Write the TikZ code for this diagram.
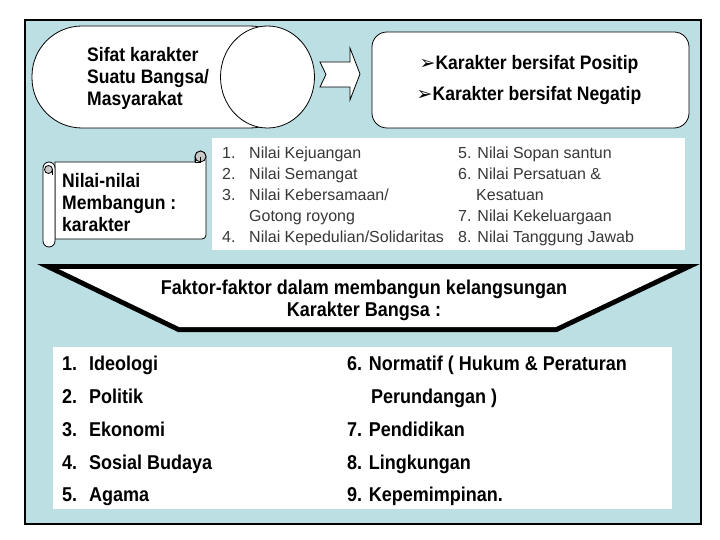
\documentclass[tikz,border=0pt]{standalone}
\usepackage{fontspec}
\setmainfont{Liberation Sans}
\newfontfamily\bnarrow{Liberation Sans}[FakeStretch=0.9]
\newfontfamily\dejavu{DejaVu Sans}
\definecolor{bgblue}{RGB}{187,223,227}
\definecolor{curlgray}{RGB}{200,200,200}
\tikzset{
  thin line/.style={draw=black, line width=0.8pt},
  boldtxt/.style={inner sep=0pt, anchor=base west, font=\bnarrow\bfseries\fontsize{19.5}{22}\selectfont},
  bigtxt/.style={inner sep=0pt, anchor=base west, font=\bnarrow\bfseries\fontsize{20}{22}\selectfont},
  listtxt/.style={inner sep=0pt, anchor=base west, text=black!78, font=\fontsize{16}{21}\selectfont},
}
\newcommand{\mybullet}{{\dejavu\fontsize{19}{19}\selectfont ➢}}
\begin{document}
\begin{tikzpicture}[x=1pt,y=-1pt]
\useasboundingbox (0,0) rectangle (720,540);
% outer panel
\draw[fill=bgblue, line width=1.2pt] (25,20) rectangle (701,524);

% stadium + circle
\draw[thin line, fill=white, rounded corners=50] (32,26) rectangle (300,128);
\draw[thin line, fill=white] (267.5,77) ellipse[x radius=47, y radius=51];
\node[boldtxt] (s1) at (87,61.5) {Sifat karakter};
\node[boldtxt] (s2) at (87,83.5) {Suatu Bangsa/};
\node[boldtxt] (s3) at (87,105.5) {Masyarakat};

% notched arrow
\draw[thin line, fill=white] (320,62) -- (350,62) -- (350,48) -- (360,74) -- (350,100) -- (350,87) -- (320,87) -- (326,74.5) -- cycle;

% rounded box
\draw[thin line, fill=white, rounded corners=15] (372,32) rectangle (689,128);
\node[boldtxt, anchor=base] (k1) at (529,69.5) {\mybullet Karakter bersifat Positip};
\node[boldtxt, anchor=base] (k2) at (529,100.5) {\mybullet Karakter bersifat Negatip};

% scroll
\draw[thin line, fill=white] (55,162) -- (195,162) -- (195,156.5)
   arc[start angle=180, end angle=360, radius=5.5] -- (206,235)
   arc[start angle=0, end angle=90, radius=4] -- (55,239) -- cycle;
\draw[thin line, fill=curlgray] (200.5,156.5) circle[radius=5.5];
\draw[thin line] (195,157) -- (195,162) -- (200.5,162) -- (200.5,157);
\draw[thin line, fill=white] (43,168) arc[start angle=180, end angle=360, radius=6]
   -- (55,241) arc[start angle=0, end angle=180, radius=6] -- cycle;
\draw[thin line, fill=curlgray] (48.5,169.5) circle[radius=4];
\draw[thin line] (52.5,169.5) -- (52.5,175);
\node[boldtxt] (n1) at (62,187.5) {Nilai-nilai};
\node[boldtxt] (n2) at (62,209.5) {Membangun :};
\node[boldtxt] (n3) at (62,231) {karakter};

% value list
\fill[white] (212,138) rectangle (685,250);
\node[listtxt] (a1n) at (222,158.5) {1.};
\node[listtxt] (a1) at (249,158.5) {Nilai Kejuangan};
\node[listtxt] (a2n) at (222,179.5) {2.};
\node[listtxt] (a2) at (249,179.5) {Nilai Semangat};
\node[listtxt] (a3n) at (222,200.5) {3.};
\node[listtxt] (a3) at (249,200.5) {Nilai Kebersamaan/};
\node[listtxt] (a3b) at (249,221.5) {Gotong royong};
\node[listtxt] (a4n) at (222,242.5) {4.};
\node[listtxt] (a4) at (249,242.5) {Nilai Kepedulian/Solidaritas};
\node[listtxt] (b5) at (458,158.5) {5. Nilai Sopan santun};
\node[listtxt] (b6) at (458,179.5) {6. Nilai Persatuan \&};
\node[listtxt] (b6b) at (476,200.5) {Kesatuan};
\node[listtxt] (b7) at (458,221.5) {7. Nilai Kekeluargaan};
\node[listtxt] (b8) at (458,242.5) {8. Nilai Tanggung Jawab};

% banner
\fill[black] (37,264) -- (700,264) -- (557,332) -- (178,332) -- cycle;
\fill[white] (58.9,269) -- (677.8,269) -- (555.9,327) -- (179.2,327) -- cycle;
\node[bigtxt, anchor=base] (f1) at (364,294.5) {Faktor-faktor dalam membangun kelangsungan};
\node[bigtxt, anchor=base] (f2) at (364,316.5) {Karakter Bangsa :};

% factor list
\fill[white] (53,347) rectangle (672,509);
\node[bigtxt] (c1n) at (62,370) {1.};
\node[bigtxt] (c1) at (89,370) {Ideologi};
\node[bigtxt] (c2n) at (62,403) {2.};
\node[bigtxt] (c2) at (89,403) {Politik};
\node[bigtxt] (c3n) at (62,436) {3.};
\node[bigtxt] (c3) at (89,436) {Ekonomi};
\node[bigtxt] (c4n) at (62,469) {4.};
\node[bigtxt] (c4) at (89,469) {Sosial Budaya};
\node[bigtxt] (c5n) at (62,501) {5.};
\node[bigtxt] (c5) at (89,501) {Agama};
\node[bigtxt] (d6) at (347,370) {6. Normatif ( Hukum \& Peraturan};
\node[bigtxt] (d6b) at (371,403) {Perundangan )};
\node[bigtxt] (d7) at (347,436) {7. Pendidikan};
\node[bigtxt] (d8) at (347,469) {8. Lingkungan};
\node[bigtxt] (d9) at (347,501) {9. Kepemimpinan.};
\end{tikzpicture}
\end{document}
